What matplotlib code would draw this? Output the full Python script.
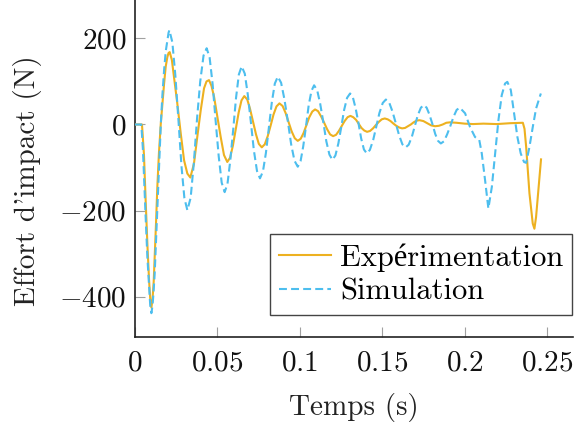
import matplotlib
matplotlib.use("Agg")
import matplotlib.pyplot as plt
from matplotlib.ticker import FixedLocator, FixedFormatter

plt.rcParams["font.family"] = ["cmr10", "Liberation Serif", "DejaVu Serif"]
plt.rcParams["mathtext.fontset"] = "cm"
plt.rcParams["font.size"] = 21

# Expérimentation (measured impact force)
t_exp = [0.0000, 0.0044, 0.0056, 0.0067, 0.0077, 0.0087, 0.0094, 0.0101,
         0.0108, 0.0115, 0.0121, 0.0129, 0.0137, 0.0147, 0.0158, 0.0168,
         0.0178, 0.0188, 0.0198, 0.0205, 0.0212, 0.0225, 0.0238, 0.0258,
         0.0279, 0.0299, 0.0319, 0.0337, 0.0359, 0.0379, 0.0400, 0.0420,
         0.0435, 0.0450, 0.0465, 0.0481, 0.0501, 0.0521, 0.0541, 0.0561,
         0.0578, 0.0595, 0.0613, 0.0630, 0.0647, 0.0664, 0.0682, 0.0699,
         0.0717, 0.0735, 0.0752, 0.0770, 0.0788, 0.0806, 0.0824, 0.0841,
         0.0859, 0.0877, 0.0896, 0.0914, 0.0933, 0.0951, 0.0970, 0.0988,
         0.1006, 0.1023, 0.1041, 0.1058, 0.1076, 0.1093, 0.1111, 0.1129,
         0.1148, 0.1166, 0.1184, 0.1202, 0.1220, 0.1237, 0.1255, 0.1272,
         0.1290, 0.1307, 0.1324, 0.1341, 0.1358, 0.1374, 0.1391, 0.1408,
         0.1426, 0.1444, 0.1462, 0.1479, 0.1497, 0.1515, 0.1533, 0.1550,
         0.1568, 0.1585, 0.1603, 0.1620, 0.1638, 0.1655, 0.1673, 0.1690,
         0.1708, 0.1725, 0.1749, 0.1773, 0.1796, 0.1820, 0.1843, 0.1866,
         0.1888, 0.1911, 0.1950, 0.2000, 0.2050, 0.2113, 0.2194, 0.2275,
         0.2352, 0.2362, 0.2372, 0.2392, 0.2412, 0.2422, 0.2432, 0.2446,
         0.2462]
f_exp = [0, 0, -70, -184, -280, -362, -405, -425,
         -405, -365, -308, -230, -145, -65, 2, 50,
         95, 135, 157, 166, 168, 150, 111, 49,
         -21, -83, -114, -123, -91, -29, 33, 84,
         100, 103, 90, 64, 18, -29, -71, -87,
         -77, -49, -10, 28, 56, 66, 58, 36,
         6, -23, -45, -53, -46, -27, -2, 23,
         42, 49, 43, 27, 5, -16, -32, -38,
         -33, -20, -1, 17, 30, 35, 31, 19,
         4, -11, -23, -27, -24, -15, -3, 8,
         17, 20, 17, 11, 1, -8, -14, -17,
         -15, -9, -1, 6, 12, 14, 12, 8,
         2, -3, -7, -9, -8, -4, 0, 5,
         9, 10, 8, 3, -2, -4, -3, 0,
         4, 5, 4, 2, 1, 2, 1, 3,
         4, -10, -52, -160, -230, -242, -215, -153,
         -81]

# Simulation
t_sim = [0.0000, 0.0040, 0.0050, 0.0067, 0.0077, 0.0087, 0.0094, 0.0101,
         0.0108, 0.0114, 0.0121, 0.0129, 0.0137, 0.0147, 0.0158, 0.0168,
         0.0178, 0.0188, 0.0198, 0.0205, 0.0210, 0.0228, 0.0246, 0.0265,
         0.0283, 0.0301, 0.0319, 0.0339, 0.0358, 0.0378, 0.0397, 0.0417,
         0.0436, 0.0454, 0.0472, 0.0490, 0.0509, 0.0527, 0.0545, 0.0562,
         0.0579, 0.0597, 0.0614, 0.0631, 0.0648, 0.0667, 0.0685, 0.0704,
         0.0722, 0.0741, 0.0759, 0.0777, 0.0795, 0.0813, 0.0831, 0.0849,
         0.0867, 0.0887, 0.0907, 0.0928, 0.0948, 0.0968, 0.0988, 0.1005,
         0.1021, 0.1038, 0.1054, 0.1071, 0.1087, 0.1106, 0.1124, 0.1143,
         0.1161, 0.1180, 0.1198, 0.1216, 0.1234, 0.1252, 0.1269, 0.1287,
         0.1305, 0.1322, 0.1339, 0.1356, 0.1372, 0.1389, 0.1406, 0.1425,
         0.1445, 0.1464, 0.1483, 0.1503, 0.1522, 0.1542, 0.1562, 0.1582,
         0.1602, 0.1622, 0.1642, 0.1660, 0.1679, 0.1697, 0.1715, 0.1734,
         0.1752, 0.1769, 0.1786, 0.1804, 0.1821, 0.1838, 0.1855, 0.1874,
         0.1893, 0.1913, 0.1932, 0.1951, 0.1970, 0.2002, 0.2032, 0.2062,
         0.2088, 0.2103, 0.2123, 0.2143, 0.2164, 0.2184, 0.2204, 0.2224,
         0.2244, 0.2258, 0.2279, 0.2299, 0.2319, 0.2339, 0.2359, 0.2372,
         0.2392, 0.2412, 0.2432, 0.2461]
f_sim = [0, 0, -60, -222, -310, -377, -420, -438,
         -420, -390, -346, -270, -191, -95, 0, 70,
         126, 170, 196, 213, 219, 191, 115, 10,
         -95, -171, -199, -170, -90, 15, 100, 160,
         177, 155, 94, 10, -74, -135, -157, -138,
         -84, -11, 62, 116, 135, 118, 70, 5,
         -60, -108, -125, -109, -66, -7, 52, 95,
         111, 97, 59, 7, -46, -84, -98, -85,
         -51, -4, 44, 78, 91, 79, 48, 5,
         -39, -70, -82, -72, -44, -5, 34, 62,
         72, 63, 37, 3, -32, -58, -67, -59,
         -36, -5, 27, 50, 58, 51, 30, 3,
         -25, -46, -53, -47, -29, -4, 21, 39,
         45, 39, 23, 1, -22, -38, -44, -39,
         -23, -3, 18, 34, 39, 26, -6, -29,
         -36, -67, -129, -195, -145, -67, 10, 68,
         95, 99, 80, 26, -29, -67, -87, -89,
         -52, -6, 37, 72]

x_ticks = [0, 0.05, 0.1, 0.15, 0.2, 0.25]
x_tick_labels = ["0", "0.05", "0.1", "0.15", "0.2", "0.25"]
y_ticks = [-400, -200, 0, 200]
y_tick_labels = ["-400", "-200", "0", "200"]

orange = "#EDB120"
blue = "#4DBEEE"

fig = plt.figure(figsize=(5.74, 4.26), dpi=100)
ax = fig.add_axes([0.2347, 0.2082, 0.7636, 0.7918])

ax.plot(t_exp, f_exp, color=orange, lw=1.5, label="Expérimentation", zorder=3)
ax.plot(t_sim, f_sim, color=blue, lw=1.5, ls=(0, (3.8, 2.0)), label="Simulation", zorder=4)

ax.set_xlim(0, 0.2656)
ax.set_ylim(-494, 289)

for side in ("top", "right"):
    ax.spines[side].set_visible(False)
for side in ("left", "bottom"):
    ax.spines[side].set_color("#222222")
    ax.spines[side].set_linewidth(1.2)

ax.xaxis.set_major_locator(FixedLocator(x_ticks))
ax.xaxis.set_major_formatter(FixedFormatter([f"${s}$" for s in x_tick_labels]))
ax.yaxis.set_major_locator(FixedLocator(y_ticks))
ax.yaxis.set_major_formatter(FixedFormatter([f"${s}$" for s in y_tick_labels]))
ax.tick_params(direction="in", length=7.5, width=0.8, color="#A0A0A0",
               labelsize=21, labelcolor="#111111")
ax.tick_params(axis="y", pad=6)
ax.tick_params(axis="x", pad=9)

ax.set_xlabel("Temps (s)", fontsize=21, color="#222222")
ax.set_ylabel("Effort d'impact (N)", fontsize=21, color="#222222")
ax.xaxis.set_label_coords(0.5, -0.165)
ax.yaxis.set_label_coords(-0.212, 0.465)

leg = ax.legend(loc="lower right", bbox_to_anchor=(0.9984, 0.066),
                borderaxespad=0, fancybox=False, framealpha=1,
                edgecolor="#444444", fontsize=22, handlelength=1.7,
                handletextpad=0.3, borderpad=0.3, labelspacing=0.22)
leg.get_frame().set_linewidth(1.0)

fig.savefig("out.png", dpi=100)
